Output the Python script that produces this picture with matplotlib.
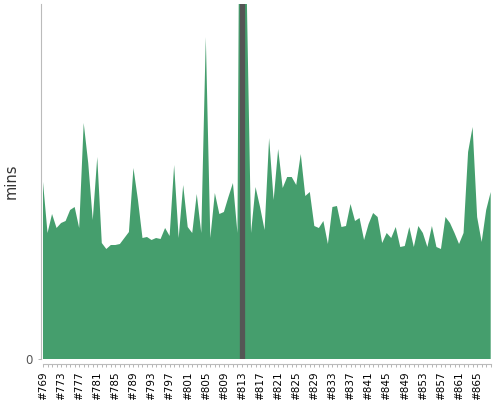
import matplotlib
matplotlib.use("Agg")
import matplotlib.pyplot as plt
import numpy as np

builds = [f"#{n}" for n in range(769, 869)]
mins = [
    17.7, 12.6, 14.5, 13.1, 13.6, 13.8, 14.9, 15.2, 13.1, 23.6,
    19.6, 13.9, 20.2, 11.6, 11.0, 11.4, 11.4, 11.5, 12.1, 12.7,
    19.1, 15.9, 12.1, 12.2, 11.9, 12.1, 12.0, 13.1, 12.3, 19.4,
    12.1, 17.4, 13.2, 12.6, 16.5, 12.6, 32.2, 12.1, 16.6, 14.5,
    14.7, 16.2, 17.6, 12.6, 95.0, 37.9, 12.6, 17.2, 15.2, 12.9,
    22.1, 15.9, 21.0, 17.1, 18.2, 18.2, 17.4, 20.5, 16.3, 16.7,
    13.3, 13.1, 13.8, 11.5, 15.2, 15.3, 13.2, 13.3, 15.5, 13.8,
    14.1, 11.9, 13.5, 14.6, 14.2, 11.6, 12.6, 12.1, 13.2, 11.2,
    11.3, 13.2, 11.2, 13.3, 12.6, 11.2, 13.3, 11.2, 11.0, 14.2,
    13.6, 12.6, 11.5, 12.6, 20.7, 23.2, 14.2, 11.7, 14.9, 16.7,
]
highlight = "#813"
y_top = 35.5
yticks = [0]

fig = plt.figure(figsize=(5, 4), dpi=100)
ax = fig.add_axes([43 / 500, 41 / 400, 447.7 / 500, 355 / 400])

x = np.arange(len(builds))
ax.fill_between(x, 0, mins, color="#459e6d", linewidth=0)
hi = builds.index(highlight)
ax.axvline(hi, color="#555555", linewidth=3.8, zorder=3)

ax.set_xlim(0, len(builds) - 1)
ax.set_ylim(0, y_top)

for s in ["top", "right"]:
    ax.spines[s].set_visible(False)
ax.spines["left"].set_position(("outward", 1.8))
ax.spines["left"].set_color("#bbbbbb")
ax.spines["bottom"].set_position(("outward", 3.6))
ax.spines["bottom"].set_color("#bbbbbb")

ax.set_xticks(x)
ax.set_xticklabels([b if i % 4 == 0 else "" for i, b in enumerate(builds)],
                   rotation=90, fontsize=7.5, color="black")
ax.tick_params(axis="x", length=2.5, width=0.6, color="#aaaaaa", pad=3)

ax.set_yticks(yticks)
ax.set_yticklabels([str(t) for t in yticks], fontsize=8.5, color="#555555")
ax.tick_params(axis="y", length=2.5, width=0.6, color="#aaaaaa", pad=3)

ax.set_ylabel("mins", fontsize=10.5, color="#333333")
ax.yaxis.set_label_coords(-0.054, 0.5)

fig.savefig("out.png", dpi=100)
